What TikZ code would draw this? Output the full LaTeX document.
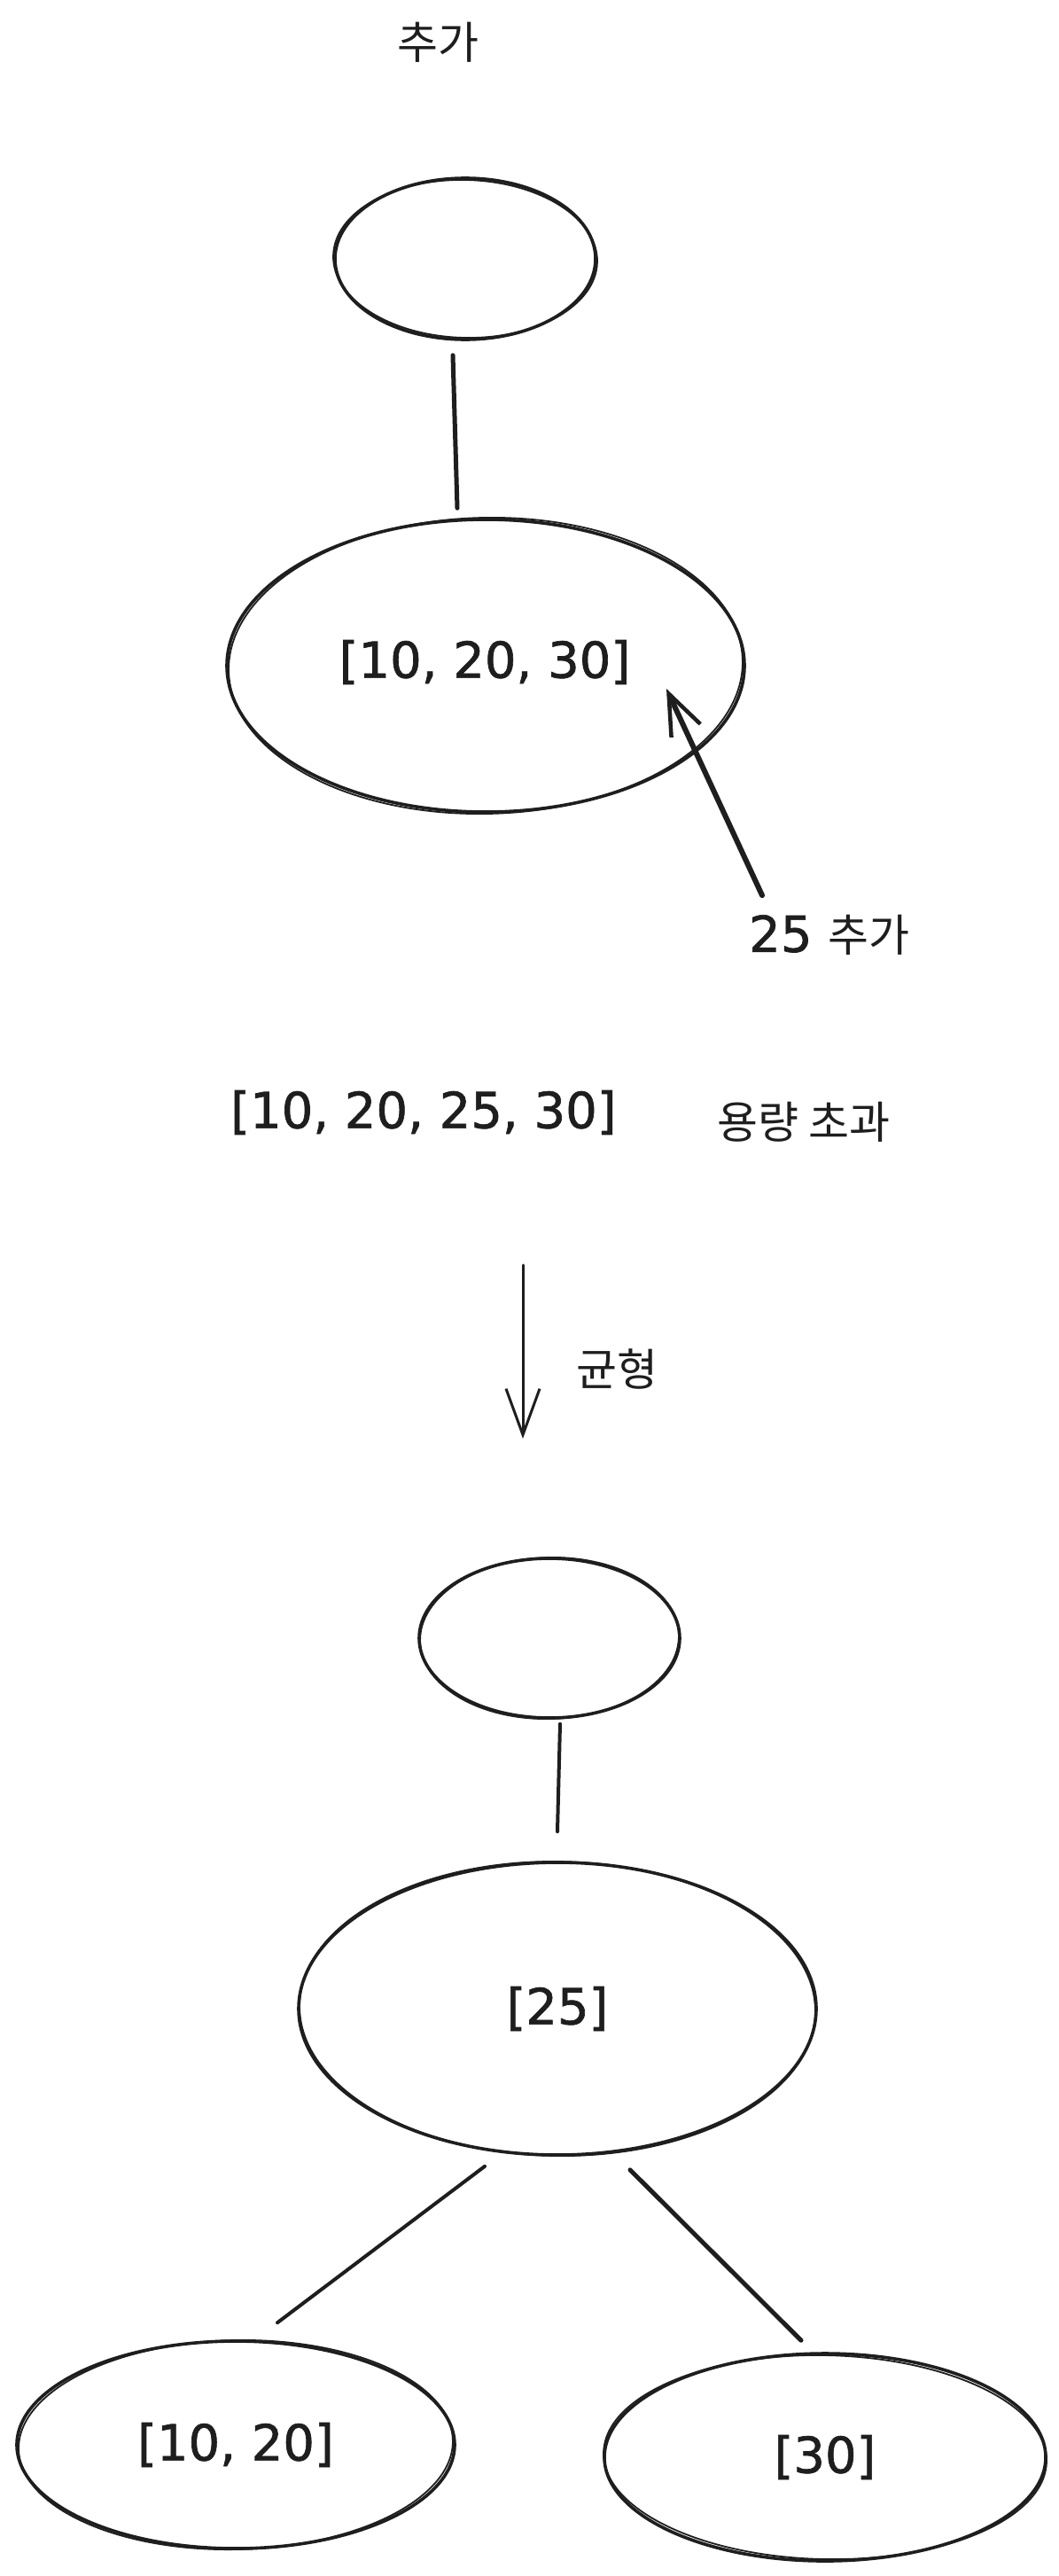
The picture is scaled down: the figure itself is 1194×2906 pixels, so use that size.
\documentclass[tikz,border=0pt]{standalone}
\usepackage{fontspec}
\setmainfont{DejaVu Sans}
\newfontfamily\numfont[FakeBold=1.2]{DejaVu Sans}
\newfontfamily\kr{Noto Sans CJK KR}
\usetikzlibrary{shapes.geometric,arrows.meta,calc}
\definecolor{ink}{HTML}{1E1E1E}
\begin{document}
\begin{tikzpicture}[x=1pt,y=-1pt,
  ell/.style={ellipse, draw=ink, line width=3.6pt, inner sep=0pt},
  sk/.style={draw=ink, line width=1.8pt},
  num/.style={font=\numfont\fontsize{56}{60}\selectfont, text=ink, inner sep=0pt},
  kor/.style={font=\kr\fontsize{50}{56}\selectfont, text=ink, inner sep=0pt},
  edge/.style={draw=ink, line width=4pt, line cap=round},
]
\useasboundingbox[fill=white] (0,0) rectangle (1194,2906);

% top tree
\node[kor] (title) at (494,48) {추가};
\node[ell, minimum width=294pt, minimum height=182pt] (t1) at (525,292) {};
\draw[sk] (t1.center) ellipse [x radius=149pt, y radius=89pt, rotate=-1.5];
\node[ell, minimum width=584pt, minimum height=330pt] (n1) at (548,751) {};
\draw[sk] (n1.center) ellipse [x radius=290pt, y radius=167pt, rotate=1.2];
\node[num] (n1t) at (547,747) {[10, 20, 30]};
\draw[edge, line width=5pt] ($(t1.south)+(-14,16)$) -- ($(n1.north)+(-32,-11)$);

% inserted value
\node[num, anchor=west] (lbl25) at (845,1055) {25 {\kr\fontsize{50}{56}\selectfont 추가}};
\coordinate (tail) at ($(lbl25.north west)+(15,-22)$);
\coordinate (tip) at ($(n1.center)+(204,26)$);
\draw[edge, line width=6pt, -{Straight Barb[length=46pt, width=36pt, line width=4.5pt]}] (tail) -- (tip);

% overflow
\node[num] (over) at (478,1255) {[10, 20, 25, 30]};
\node[kor] (cap) at (907,1266) {용량 초과};

% balance arrow
\coordinate (b1) at (590,1427);
\coordinate (b2) at (590,1623);
\draw[edge, line width=3pt, -{Straight Barb[length=52pt, width=38pt, line width=3pt]}] (b1) -- (b2);
\node[kor] (bal) at (696,1545) {균형};

% bottom tree
\node[ell, minimum width=294pt, minimum height=180pt] (t2) at (620,1848) {};
\draw[sk] (t2.center) ellipse [x radius=146pt, y radius=91pt, rotate=1.5];
\node[ell, minimum width=584pt, minimum height=330pt] (n2) at (629,2266) {};
\draw[sk] (n2.center) ellipse [x radius=291pt, y radius=166pt, rotate=-0.8];
\node[num] (n2t) at (n2.center) {[25]};
\node[ell, minimum width=494pt, minimum height=234pt] (l2) at (266,2758) {};
\draw[sk] (l2.center) ellipse [x radius=245pt, y radius=118pt, rotate=1.2];
\node[num] (l2t) at (l2.center) {[10, 20]};
\node[ell, minimum width=498pt, minimum height=234pt] (r2) at (931,2772) {};
\draw[sk] (r2.center) ellipse [x radius=250pt, y radius=115pt, rotate=-1.2];
\node[num] (r2t) at (r2.center) {[30]};

\draw[edge] ($(t2.south)+(12,5)$) -- ($(n2.north)+(0,-33)$);
\draw[edge] ($(n2.south)+(-82,11)$) -- ($(l2.north)+(47,-19)$);
\draw[edge, line width=5pt] ($(n2.south)+(82,15)$) -- ($(r2.north)+(-27,-13)$);
\end{tikzpicture}
\end{document}
